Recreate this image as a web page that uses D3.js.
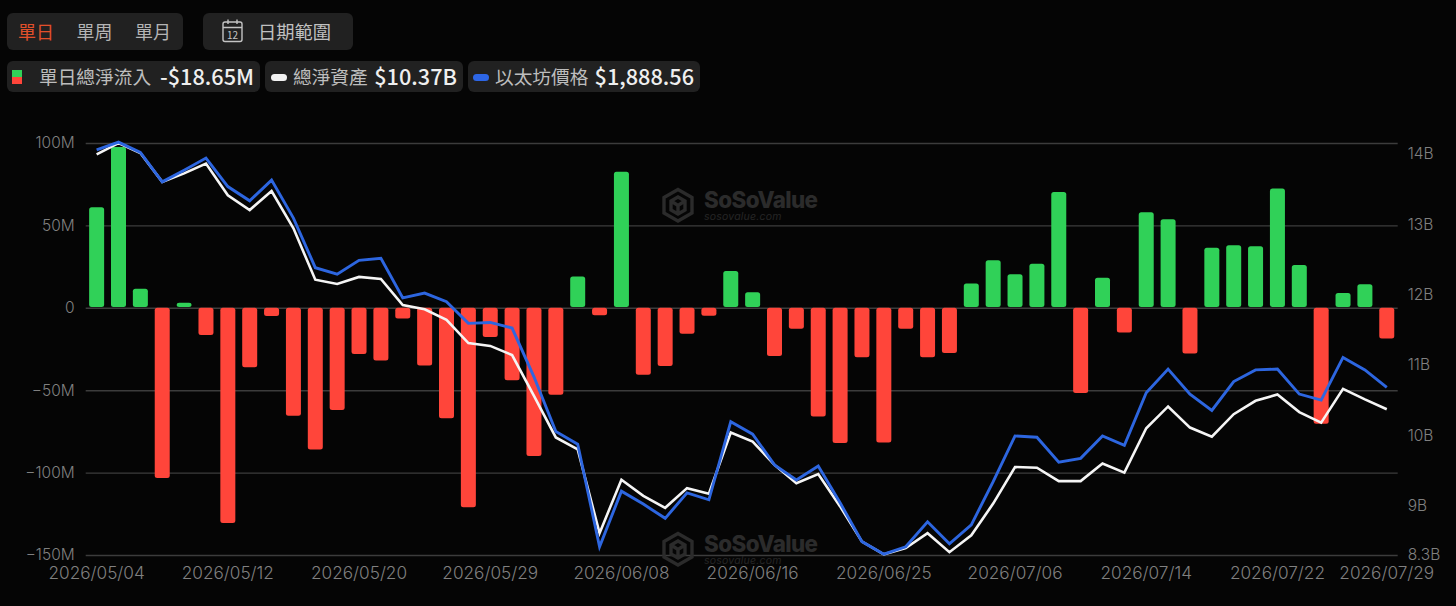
<!DOCTYPE html>
<html>
<head>
<meta charset="utf-8">
<script src="https://cdn.jsdelivr.net/npm/d3@7"></script>
<style>
  html, body { margin: 0; padding: 0; background: #050505; }
  svg { display: block; }
  .axis text { font-family: Inter, Roboto, sans-serif; font-size: 15.5px; font-weight: 300; fill: #808080; }
  .axis.dates text { font-size: 17.2px; }
  .cjk { font-family: "Noto Sans CJK TC", sans-serif; }
</style>
</head>
<body>
<svg id="chart" width="1456" height="606"></svg>
<script>
const dates = [
  "2026/05/04","2026/05/05","2026/05/06","2026/05/07","2026/05/08","2026/05/11","2026/05/12","2026/05/13","2026/05/14","2026/05/15",
  "2026/05/18","2026/05/19","2026/05/20","2026/05/21","2026/05/22","2026/05/26","2026/05/27","2026/05/28","2026/05/29","2026/06/01",
  "2026/06/02","2026/06/03","2026/06/04","2026/06/05","2026/06/08","2026/06/09","2026/06/10","2026/06/11","2026/06/12","2026/06/15",
  "2026/06/16","2026/06/17","2026/06/18","2026/06/22","2026/06/23","2026/06/24","2026/06/25","2026/06/26","2026/06/29","2026/06/30",
  "2026/07/01","2026/07/02","2026/07/06","2026/07/07","2026/07/08","2026/07/09","2026/07/10","2026/07/13","2026/07/14","2026/07/15",
  "2026/07/16","2026/07/17","2026/07/20","2026/07/21","2026/07/22","2026/07/23","2026/07/24","2026/07/27","2026/07/28","2026/07/29"
];
// daily net inflow, $M
const netInflow = [
  61, 97.6, 11.5, -103.3, 3, -16.5, -130.6, -36, -5, -65.5,
  -86, -62, -28, -32, -6.5, -35, -67, -121, -17.7, -44,
  -90, -52.7, 19, -4.5, 82.5, -40.6, -35.3, -15.7, -4.8, 22.3,
  9.4, -29.3, -12.7, -66, -82, -30, -81.7, -12.7, -30, -27.5,
  14.7, 28.8, 20.3, 26.8, 70.3, -51.7, 18.3, -15, 58, 53.7,
  -27.8, 36.5, 38, 37.3, 72.4, 26, -70.3, 9, 14.3, -18.65
];
// total net assets, $B
const netAssets = [
  13.99, 14.15, 14.01, 13.60, 13.72, 13.86, 13.41, 13.20, 13.47, 12.94,
  12.21, 12.15, 12.25, 12.22, 11.85, 11.79, 11.64, 11.31, 11.27, 11.14,
  10.56, 9.97, 9.80, 8.61, 9.37, 9.14, 8.97, 9.25, 9.17, 10.04,
  9.91, 9.58, 9.32, 9.45, 8.99, 8.49, 8.31, 8.40, 8.61, 8.34,
  8.58, 9.03, 9.55, 9.54, 9.35, 9.35, 9.60, 9.47, 10.10, 10.41,
  10.11, 9.98, 10.30, 10.49, 10.58, 10.33, 10.18, 10.66, 10.51, 10.37
];
// ETH price, $
const ethPrice = [
  2439, 2457, 2433, 2365, 2392, 2420, 2354, 2321, 2369, 2281,
  2166, 2151, 2183, 2188, 2096, 2107, 2087, 2037, 2039, 2026,
  1913, 1786, 1757, 1519, 1648, 1618, 1585, 1644, 1628, 1809,
  1780, 1709, 1674, 1706, 1621, 1531, 1502, 1519, 1577, 1526,
  1570, 1670, 1776, 1773, 1715, 1724, 1776, 1754, 1876, 1931,
  1873, 1835, 1902, 1929, 1931, 1873, 1859, 1958, 1929, 1888.56
];
const xTickLabels = ["2026/05/04","2026/05/12","2026/05/20","2026/05/29","2026/06/08","2026/06/16","2026/06/25","2026/07/06","2026/07/14","2026/07/22","2026/07/29"];
const leftTicks = [100, 50, 0, -50, -100, -150];
const leftTickLabels = ["100M", "50M", "0", "\u221250M", "\u2212100M", "\u2212150M"];
const rightTicks = [14, 13, 12, 11, 10, 9, 8.3];
const rightTickLabels = ["14B", "13B", "12B", "11B", "10B", "9B", "8.3B"];
const rangeTabs = ["單日", "單周", "單月"];
const legendNames = ["單日總淨流入", "總淨資產", "以太坊價格"];
const legendValues = ["-$18.65M", "$10.37B", "$1,888.56"];

const svg = d3.select("#chart");
const plot = { left: 85.7, right: 1397.7, top: 143, bottom: 555 };

svg.append("rect").attr("width", 1456).attr("height", 606).attr("fill", "#050505");

const x = d3.scaleBand().domain(dates).range([plot.left, plot.right]).paddingInner(0.314).paddingOuter(0.157);
const yFlow = d3.scaleLinear().domain([-150, 100]).range([plot.bottom, plot.top]);
const yAssets = d3.scaleLinear().domain([8.3, 14.152]).range([plot.bottom, plot.top]);
const yPrice = d3.scaleLinear().domain([1500, 2455]).range([plot.bottom, plot.top]);

// header buttons
function box(x0, y0, w, h) {
  svg.append("rect").attr("x", x0).attr("y", y0).attr("width", w).attr("height", h).attr("rx", 6).attr("fill", "#212121");
}
box(7, 13, 176, 37);
box(203, 13, 150, 37);
rangeTabs.forEach((t, i) => {
  svg.append("text").attr("class", "cjk").attr("x", 18 + i * 58.5).attr("y", 38.5)
    .attr("font-size", 18).attr("fill", i === 0 ? "#e2502b" : "#b4b4b4").text(t);
});
const cal = svg.append("g").attr("fill", "none").attr("stroke", "#c4c4c4").attr("stroke-width", 1.4);
cal.append("rect").attr("x", 223).attr("y", 22).attr("width", 19).attr("height", 19.5).attr("rx", 2);
cal.append("path").attr("d", "M223 27.5H242M228 19.5V24M237 19.5V24");
svg.append("text").attr("class", "cjk").attr("x", 232.5).attr("y", 38.5).attr("text-anchor", "middle")
  .attr("font-size", 10).attr("fill", "#c4c4c4").text("12");
svg.append("text").attr("class", "cjk").attr("x", 258).attr("y", 38.5).attr("font-size", 18.3).attr("fill", "#c0c0c0").text("日期範圍");

// legend chips
box(7, 61, 253, 31);
box(265, 61, 198, 31);
box(468, 61, 232, 31);
svg.append("rect").attr("x", 12).attr("y", 70).attr("width", 10).attr("height", 7).attr("fill", "#30d158");
svg.append("rect").attr("x", 12).attr("y", 77).attr("width", 10).attr("height", 7).attr("fill", "#ff453a");
svg.append("rect").attr("x", 271).attr("y", 74).attr("width", 16).attr("height", 7).attr("rx", 3.5).attr("fill", "#f2f2f2");
svg.append("rect").attr("x", 473).attr("y", 74).attr("width", 16).attr("height", 7).attr("rx", 3.5).attr("fill", "#2d66e6");
[39, 293, 495].forEach((lx, i) => {
  svg.append("text").attr("class", "cjk").attr("x", lx).attr("y", 83.5).attr("font-size", 18.7).attr("fill", "#bdbdbd").text(legendNames[i]);
});
[254, 457, 694].forEach((rx, i) => {
  svg.append("text").attr("class", "cjk").attr("x", rx).attr("y", 84.5).attr("text-anchor", "end")
    .attr("font-size", 21.7).attr("font-weight", 500).attr("fill", "#efefef").text(legendValues[i]);
});

// grid + left axis
const leftAxis = svg.append("g").attr("class", "axis").attr("transform", `translate(${plot.left},0)`)
  .call(d3.axisLeft(yFlow).tickValues(leftTicks).tickSize(-(plot.right - plot.left)).tickPadding(11)
    .tickFormat((d, i) => leftTickLabels[i]));
leftAxis.select(".domain").remove();
leftAxis.selectAll("line").attr("stroke", "#3c3c3c").attr("stroke-width", 1.4);

const rightAxis = svg.append("g").attr("class", "axis").attr("transform", `translate(${plot.right},0)`)
  .call(d3.axisRight(yAssets).tickValues(rightTicks).tickSize(0).tickPadding(10)
    .tickFormat((d, i) => rightTickLabels[i]));
rightAxis.select(".domain").remove();

const bottomAxis = svg.append("g").attr("class", "axis dates").attr("transform", "translate(0,556)")
  .call(d3.axisBottom(x).tickValues(xTickLabels).tickSize(0).tickPadding(11));
bottomAxis.select(".domain").remove();

// watermarks
[0, 344].forEach((dy) => {
  const g = svg.append("g").attr("transform", `translate(0,${dy})`);
  g.append("path")
    .attr("d", "M678 189.5L692 197.5V213L678 221L664 213V197.5Z M671 201L678 197L685 201V210L678 214L671 210Z M671 201L678 205.5L685 201M678 205.5V214")
    .attr("fill", "none").attr("stroke", "#2b2b2b").attr("stroke-width", 3.4);
  g.append("text").attr("x", 704).attr("y", 207.5).attr("font-family", "Inter, sans-serif").attr("font-weight", 800)
    .attr("font-size", 22.4).attr("letter-spacing", -0.6).attr("fill", "#2b2b2b").text("SoSoValue");
  g.append("text").attr("x", 704).attr("y", 219.5).attr("font-family", "Inter, sans-serif").attr("font-style", "italic")
    .attr("font-size", 10.5).attr("letter-spacing", 0.2).attr("fill", "#262626").text("sosovalue.com");
});

// bars
svg.append("g").selectAll("rect").data(netInflow).enter().append("rect")
  .attr("x", (d, i) => x(dates[i]))
  .attr("y", (d) => (d >= 0 ? yFlow(d) : yFlow(0)))
  .attr("width", x.bandwidth())
  .attr("height", (d) => Math.abs(yFlow(d) - yFlow(0)) - (d >= 0 ? 0.8 : 0))
  .attr("rx", 2.5)
  .attr("fill", (d) => (d >= 0 ? "#30d158" : "#ff453a"));

// lines
const cx = (i) => x(dates[i]) + x.bandwidth() / 2;
svg.append("path").attr("fill", "none").attr("stroke", "#f5f5f5").attr("stroke-width", 2.6)
  .attr("d", d3.line().x((d, i) => cx(i)).y((d) => yAssets(d))(netAssets));
svg.append("path").attr("fill", "none").attr("stroke", "#2d66e0").attr("stroke-width", 2.9)
  .attr("d", d3.line().x((d, i) => cx(i)).y((d) => yPrice(d))(ethPrice));
</script>
</body>
</html>
